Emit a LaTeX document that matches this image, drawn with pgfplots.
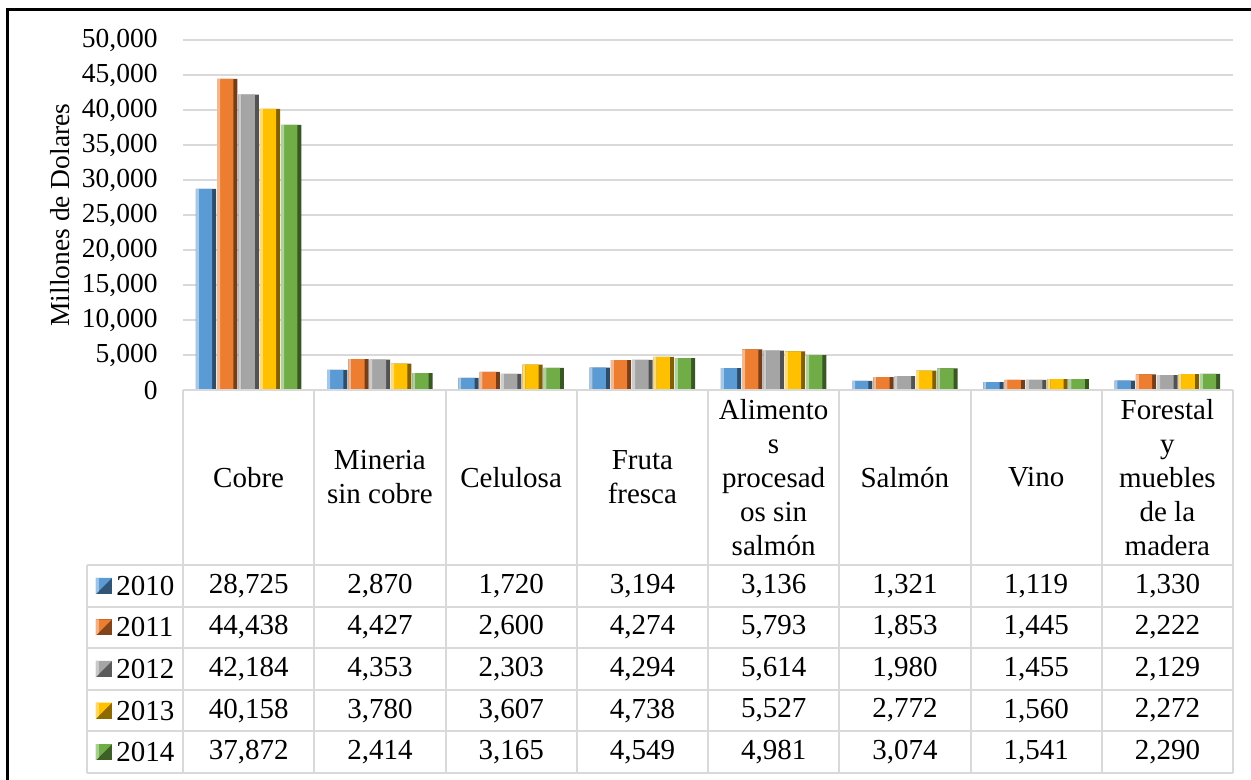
\documentclass[border=0pt]{standalone}
\usepackage{pgfplots}
\pgfplotsset{compat=1.18}
\usepackage{pgfplotstable}
\usepackage{fontspec}
\setmainfont{Liberation Serif}
\definecolor{c2010}{HTML}{5B9BD5}
\definecolor{c2011}{HTML}{ED7D31}
\definecolor{c2012}{HTML}{A5A5A5}
\definecolor{c2013}{HTML}{FFC000}
\definecolor{c2014}{HTML}{70AD47}
\definecolor{gridgray}{HTML}{D9D9D9}
\pgfkeys{/pgf/number format/.cd,1000 sep={,},assume math mode=true}

\pgfplotstableread{
idx y2010 y2011 y2012 y2013 y2014
0 28725 44438 42184 40158 37872
1 2870 4427 4353 3780 2414
2 1720 2600 2303 3607 3165
3 3194 4274 4294 4738 4549
4 3136 5793 5614 5527 4981
5 1321 1853 1980 2772 3074
6 1119 1445 1455 1560 1541
7 1330 2222 2129 2272 2290
}\datatable

% bevelled bars: #1 column, #2 colour, #3 shift, #4 main shift, #5 light shift
\newcommand\bevbars[5]{%
\addplot[ybar, draw=none, fill=#2!50!black, bar width=10.15pt, bar shift=#3pt] table[x=idx,y=#1] {\datatable};
\addplot[ybar, draw=none, fill=#2, bar width=6.65pt, bar shift=#4pt] table[x=idx,y=#1] {\datatable};
\addplot[ybar, draw=none, fill=#2!55!white, bar width=1.5pt, bar shift=#5pt] table[x=idx,y=#1] {\datatable};
}

\begin{document}
\fontsize{13.75pt}{17pt}\selectfont
\begin{tikzpicture}
% page = 1251 x 780 px, 1 px = 0.5pt; image (0,0) -> (-91.5pt,195pt)
\useasboundingbox (-91.5pt,195pt) rectangle (534pt,-195pt);
\begin{axis}[
  at={(0,0)}, anchor=south west,
  width=525pt, height=175pt, scale only axis,
  xmin=-0.5, xmax=7.5,
  ymin=0, ymax=50000,
  ytick distance=5000,
  xtick=\empty,
  axis line style={draw=none},
  major tick length=0pt,
  ymajorgrids,
  grid style={draw=gridgray, line width=1pt},
  yticklabel style={inner sep=0pt, xshift=-12.5pt},
  scaled y ticks=false,
  ylabel={Millones de Dolares},
  every axis y label/.style={at={(axis description cs:-0.117,0.5)}, rotate=90, anchor=center},
  clip=false,
]
\bevbars{y2010}{c2010}{-21.3}{-21.55}{-25.625}
\bevbars{y2011}{c2011}{-10.65}{-10.9}{-14.975}
\bevbars{y2012}{c2012}{0}{-0.25}{-4.325}
\bevbars{y2013}{c2013}{10.65}{10.4}{6.325}
\bevbars{y2014}{c2014}{21.3}{21.05}{16.975}
\end{axis}
\begin{scope}[x=0.5pt,y=-0.5pt,shift={(-91.5pt,195pt)}]
% outer frame
\draw[line width=1.5pt, black] (8,780) -- (8,10) -- (1251,10);
% table grid
\begin{scope}[draw=gridgray, line width=1pt]
\draw (183,390) -- (1233,390);
\foreach \y in {565,606.6,648.2,689.8,731.4,773}{\draw (87,\y) -- (1233,\y);}
\draw (87,565) -- (87,773);
\foreach \i in {0,...,8}{\draw (183+131.25*\i,390) -- (183+131.25*\i,773);}
\end{scope}
\begin{scope}[font=\fontsize{14.5pt}{17pt}\selectfont]
% header
\foreach [count=\r from 0] \lab in {Cobre,{Mineria\\sin cobre},Celulosa,{Fruta\\fresca},{Alimento\\s\\procesad\\os sin\\salmón},Salmón,Vino,{Forestal\\y\\muebles\\de la\\madera}}{
  \node[align=center, inner sep=0pt] at (183+131.25*\r+65.625,477.5) {\lab};
}
% rows
\foreach \c [count=\k from 0] in {2010,2011,2012,2013,2014}{
  \pgfmathsetmacro{\yy}{585.8+41.6*\k}
  \fill[c\c!55!black] (96,\yy-8) rectangle (112,\yy+8);
  \fill[c\c] (96,\yy-8) -- (112,\yy-8) -- (104,\yy) -- (96,\yy+8) -- cycle;
  \fill[c\c!60!white] (96,\yy-8) -- (99,\yy-8) -- (99,\yy+5) -- (96,\yy+8) -- cycle;
  \node[anchor=west, inner sep=0pt] at (116,\yy) {\c};
  \foreach \r in {0,...,7}{
    \pgfplotstablegetelem{\r}{y\c}\of\datatable
    \node[inner sep=0pt] at (183+131.25*\r+65.625,\yy) {\pgfmathprintnumber{\pgfplotsretval}};
  }
}
\end{scope}
\end{scope}
\end{tikzpicture}
\end{document}
